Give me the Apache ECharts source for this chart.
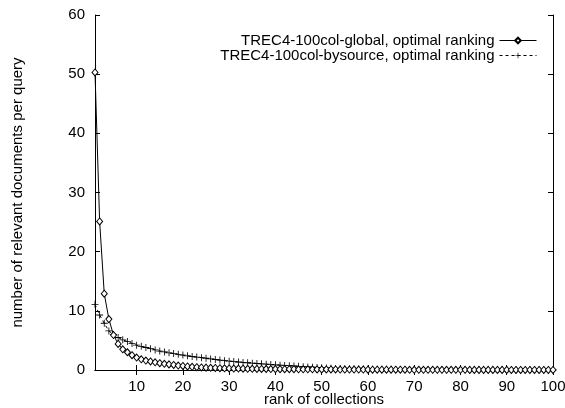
<!DOCTYPE html>
<html>
<head>
<meta charset="utf-8">
<script src="https://cdn.jsdelivr.net/npm/echarts@6/dist/echarts.min.js"></script>
<style>
  html, body { margin: 0; padding: 0; background: #fff; }
  #chart { width: 565px; height: 408px; }
</style>
</head>
<body>
<div id="chart"></div>
<script>
// rank 1..100
const ranks = [];
for (let i = 1; i <= 100; i++) ranks.push(i);

const xTicks = [10, 20, 30, 40, 50, 60, 70, 80, 90, 100];

// TREC4-100col-global, optimal ranking
const globalVals = [
  50.3, 25.1, 12.9, 8.6, 5.9, 4.4, 3.5, 3.0, 2.5, 2.1,
  1.8, 1.6, 1.45, 1.3, 1.15, 1.05, 0.95, 0.85, 0.75, 0.68,
  0.6, 0.54, 0.48, 0.44, 0.4, 0.37, 0.34, 0.31, 0.29, 0.27,
  0.25, 0.24, 0.22, 0.21, 0.2, 0.19, 0.18, 0.17, 0.16, 0.15,
  0.14, 0.14, 0.13, 0.13, 0.12, 0.12, 0.11, 0.11, 0.1, 0.1,
  0.09, 0.09, 0.09, 0.08, 0.08, 0.08, 0.07, 0.07, 0.07, 0.06,
  0.06, 0.06, 0.06, 0.05, 0.05, 0.05, 0.05, 0.05, 0.04, 0.04,
  0.04, 0.04, 0.04, 0.04, 0.03, 0.03, 0.03, 0.03, 0.03, 0.03,
  0.03, 0.02, 0.02, 0.02, 0.02, 0.02, 0.02, 0.02, 0.02, 0.02,
  0.01, 0.01, 0.01, 0.01, 0.01, 0.01, 0.01, 0.01, 0.01, 0.01
];

// TREC4-100col-bysource, optimal ranking
const bysourceVals = [
  11.1, 9.3, 7.9, 6.6, 6.0, 5.5, 5.1, 4.8, 4.5, 4.2,
  4.0, 3.8, 3.6, 3.4, 3.2, 3.05, 2.9, 2.78, 2.65, 2.52,
  2.4, 2.28, 2.18, 2.08, 1.98, 1.88, 1.78, 1.68, 1.58, 1.5,
  1.42, 1.35, 1.28, 1.22, 1.16, 1.1, 1.04, 0.98, 0.92, 0.87,
  0.82, 0.77, 0.73, 0.68, 0.62, 0.57, 0.52, 0.47, 0.42, 0.38,
  0.34, 0.3, 0.27, 0.25, 0.23, 0.21, 0.19, 0.17, 0.16, 0.15,
  0.14, 0.13, 0.12, 0.12, 0.11, 0.1, 0.1, 0.09, 0.09, 0.08,
  0.08, 0.07, 0.07, 0.07, 0.06, 0.06, 0.06, 0.05, 0.05, 0.05,
  0.05, 0.04, 0.04, 0.04, 0.04, 0.03, 0.03, 0.03, 0.03, 0.03,
  0.02, 0.02, 0.02, 0.02, 0.02, 0.02, 0.01, 0.01, 0.01, 0.01
];

const FONT = "Liberation Sans, Arial, sans-serif";
const plusPath = "path://M4.4,0H5.6V4.4H10V5.6H5.6V10H4.4V5.6H0V4.4H4.4Z";

const chart = echarts.init(document.getElementById("chart"), null, { renderer: "canvas" });

const axisLine = { show: true, lineStyle: { color: "#000", width: 1 } };

chart.setOption({
  animation: false,
  backgroundColor: "#fff",
  textStyle: { fontFamily: FONT, color: "#000" },
  grid: { left: 95, right: 12, top: 15, bottom: 38, outerBoundsMode: "none", containLabel: false },
  legend: {
    orient: "vertical",
    right: 28,
    top: 33,
    padding: 0,
    align: "right",
    itemGap: 0,
    itemWidth: 37,
    itemHeight: 7,
    lineStyle: { width: 1 },
    textStyle: { fontFamily: FONT, fontSize: 15, color: "#000", lineHeight: 14 },
    data: ["TREC4-100col-global, optimal ranking", "TREC4-100col-bysource, optimal ranking"]
  },
  xAxis: [
    {
      type: "value",
      min: 1,
      max: 100,
      name: "rank of collections",
      nameLocation: "middle",
      nameGap: 22,
      nameMoveOverlap: false,
      nameTextStyle: { fontFamily: FONT, fontSize: 15, color: "#000", verticalAlign: "top" },
      axisLine: axisLine,
      axisTick: { show: true, inside: true, length: 5, customValues: xTicks, lineStyle: { color: "#000" } },
      axisLabel: { customValues: xTicks, fontFamily: FONT, fontSize: 15, color: "#000", margin: 9 },
      splitLine: { show: false }
    },
    {
      type: "value",
      position: "top",
      min: 1,
      max: 100,
      axisLine: axisLine,
      axisTick: { show: true, inside: true, length: 5, customValues: xTicks, lineStyle: { color: "#000" } },
      axisLabel: { show: false },
      splitLine: { show: false }
    }
  ],
  yAxis: [
    {
      type: "value",
      min: 0,
      max: 60,
      interval: 10,
      name: "number of relevant documents per query",
      nameLocation: "middle",
      nameGap: 70,
      nameMoveOverlap: false,
      nameTextStyle: { fontFamily: FONT, fontSize: 15, color: "#000" },
      axisLine: axisLine,
      axisTick: { show: true, inside: true, length: 5, lineStyle: { color: "#000" } },
      axisLabel: { fontFamily: FONT, fontSize: 15, color: "#000", margin: 10 },
      splitLine: { show: false }
    },
    {
      type: "value",
      position: "right",
      min: 0,
      max: 60,
      interval: 10,
      axisLine: axisLine,
      axisTick: { show: true, inside: true, length: 5, lineStyle: { color: "#000" } },
      axisLabel: { show: false },
      splitLine: { show: false }
    }
  ],
  series: [
    {
      name: "TREC4-100col-global, optimal ranking",
      type: "line",
      data: ranks.map((r, i) => [r, globalVals[i]]),
      symbol: "diamond",
      symbolSize: [6, 7],
      showAllSymbol: true,
      itemStyle: { color: "#fff", borderColor: "#000", borderWidth: 1 },
      lineStyle: { color: "#000", width: 1 },
      z: 3
    },
    {
      name: "TREC4-100col-bysource, optimal ranking",
      type: "line",
      data: ranks.map((r, i) => [r, bysourceVals[i]]),
      symbol: plusPath,
      symbolSize: 7,
      showAllSymbol: true,
      itemStyle: { color: "#000", borderWidth: 0 },
      lineStyle: { color: "#000", width: 1, type: [3, 3] },
      z: 2
    }
  ]
});
</script>
</body>
</html>
